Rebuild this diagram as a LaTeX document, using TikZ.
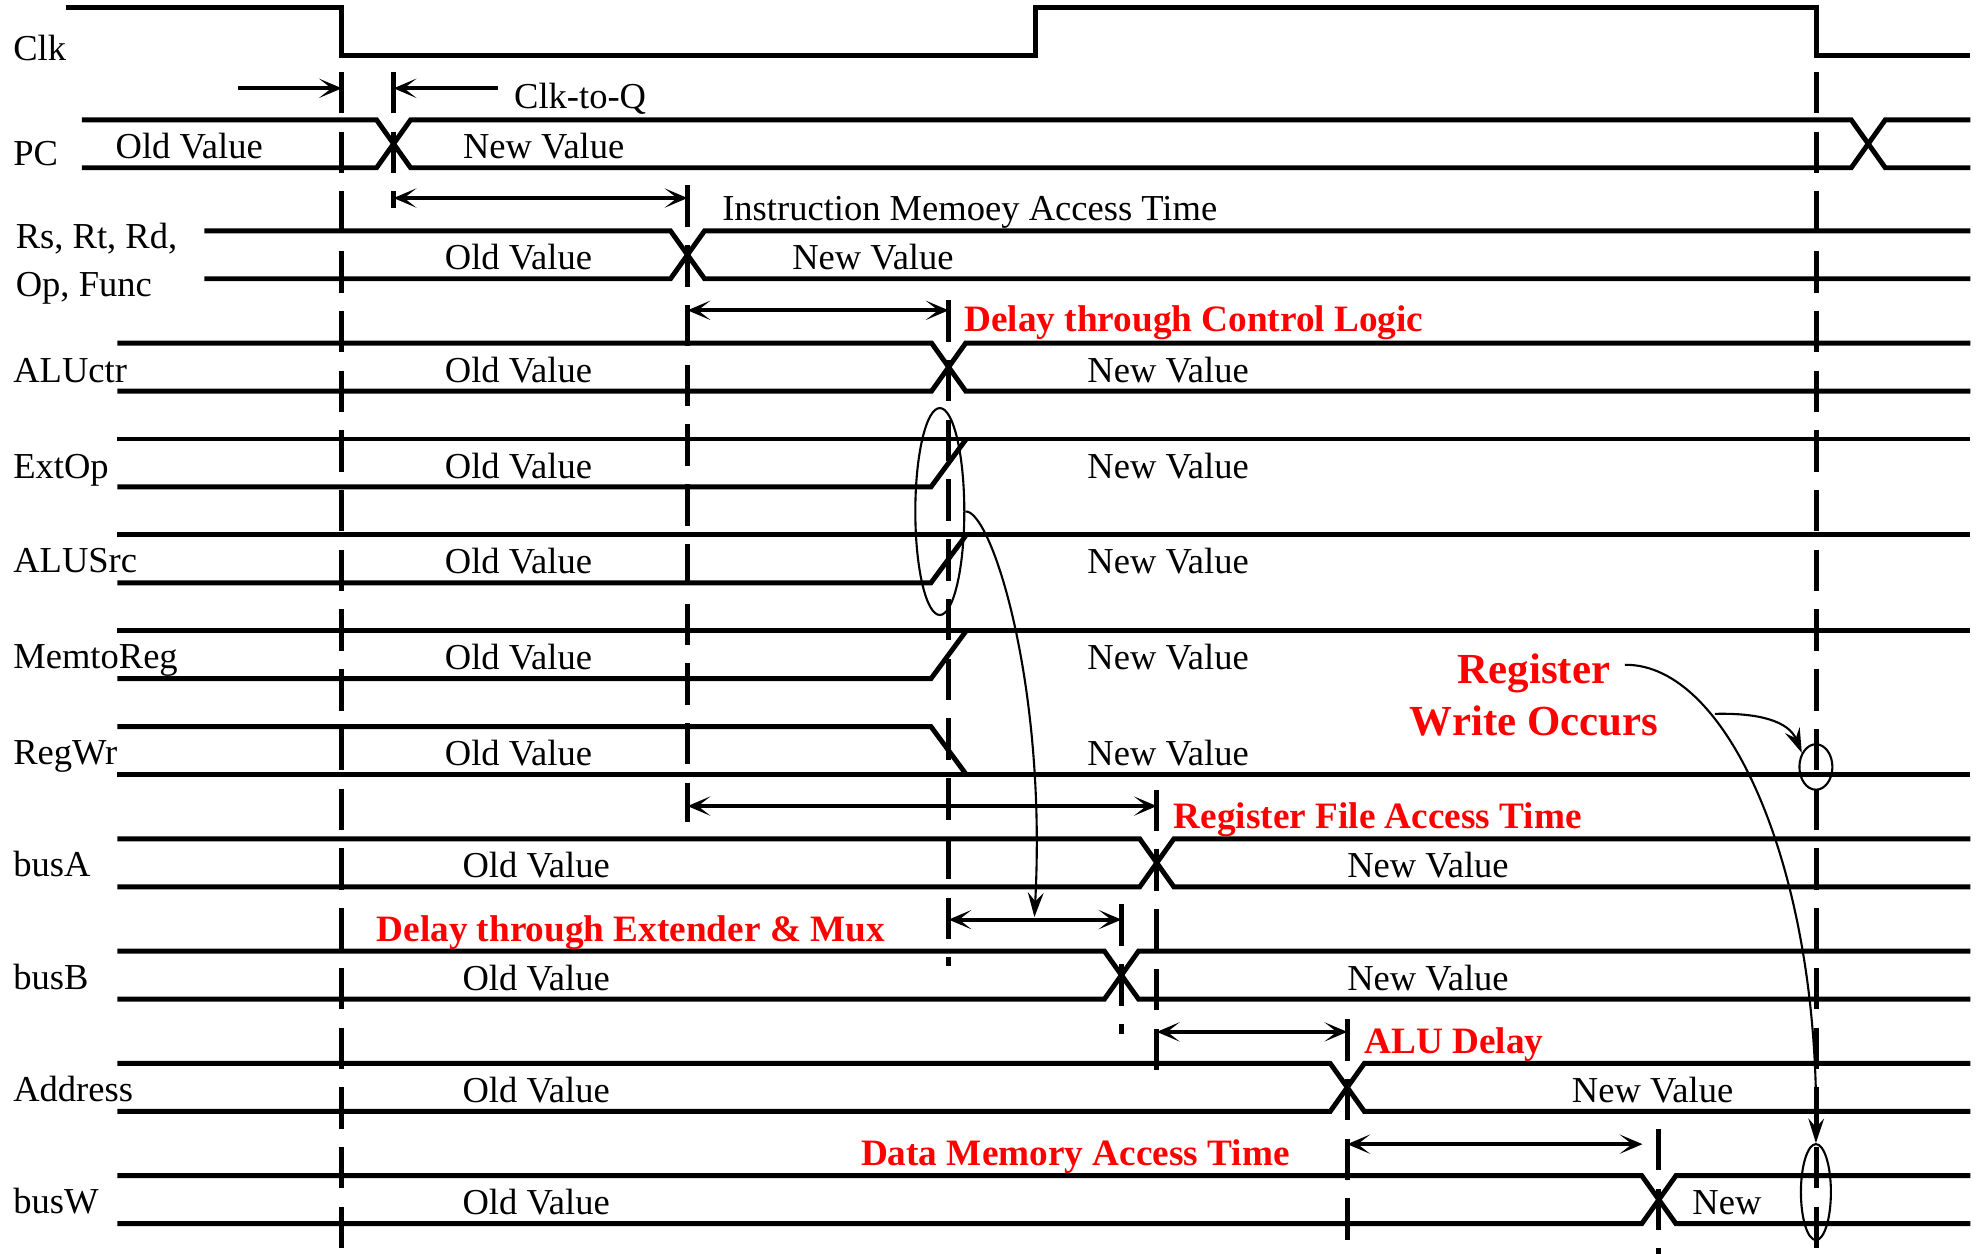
\documentclass[tikz,border=0pt]{standalone}
\usepackage{fontspec}
\setmainfont{Liberation Serif}
\usetikzlibrary{arrows.meta,shapes.geometric}

\newcommand*{\xleft}{93}
\newcommand*{\xright}{1562}
\newcommand*{\tclk}{271}
\newcommand*{\tpc}{312}
\newcommand*{\tinst}{545}
\newcommand*{\tctl}{752}
\newcommand*{\tmux}{889}
\newcommand*{\treg}{917}
\newcommand*{\talu}{1068}
\newcommand*{\tmem}{1315}
\newcommand*{\tnext}{1440}

% bus row: top y, start x, crossing x
\newcommand*{\busx}[3]{%
	\draw[sig] (#2,#1) -- ({#3-13.5},#1) -- ({#3+13.5},{#1+38}) -- (\xright,{#1+38});
	\draw[sig] (#2,{#1+38}) -- ({#3-13.5},{#1+38}) -- ({#3+13.5},#1) -- (\xright,#1);
}

\begin{document}
\begin{tikzpicture}
[
	x=0.012615cm, y=-0.012615cm,
	sig/.style={line width=1.4pt},
	tline/.style={line width=1.4pt, dash pattern=on 11.8pt off 5.2pt},
	dly/.style={line width=1.1pt, >={Stealth[length=6.5pt,width=5.5pt,inset=3.5pt]}},
	ptr/.style={line width=0.6pt, -{Stealth[length=7pt,width=4.5pt,inset=2.5pt]}},
	ring/.style={draw, ellipse, line width=0.6pt, inner sep=0pt},
	lbl/.style={anchor=base west, inner sep=0pt, font=\fontsize{10.4}{12}\selectfont},
	val/.style={anchor=base, inner sep=0pt, font=\fontsize{10.4}{12}\selectfont},
	note/.style={anchor=base west, inner sep=0pt, text=red, font=\bfseries\fontsize{10.6}{12}\selectfont}
]
	\useasboundingbox (0,0) rectangle (1568,994);

	% clock
	\draw[sig] (52,6) -- (\tclk,6) -- (\tclk,44) -- (821,44) -- (821,6) -- (\tnext,6) -- (\tnext,44) -- (\xright,44);

	% signals
	\draw[sig] (65,95) -- (298.5,95) -- (325.5,133) -- (1467.5,133) -- (1494.5,95) -- (\xright,95);
	\draw[sig] (65,133) -- (298.5,133) -- (325.5,95) -- (1467.5,95) -- (1494.5,133) -- (\xright,133);
	\busx{183}{162}{\tinst}
	\busx{272}{\xleft}{\tctl}
	\foreach \y in {348,424,500} {
		\draw[sig] (\xleft,\y) -- (\xright,\y);
		\draw[sig] (\xleft,{\y+38}) -- (738,{\y+38}) -- (766,\y);
	}
	\draw[sig] (\xleft,576) -- (738,576) -- (766,614);
	\draw[sig] (\xleft,614) -- (\xright,614);
	\busx{665}{\xleft}{\treg}
	\busx{754}{\xleft}{\tmux}
	\busx{843}{\xleft}{\talu}
	\busx{932}{\xleft}{\tmem}

	% time marks
	\draw[tline] (\tclk,57) -- (\tclk,994);
	\draw[tline] (\tpc,57) -- (\tpc,165);
	\draw[tline] (\tinst,147) -- (\tinst,652);
	\draw[tline] (\tctl,238) -- (\tctl,766);
	\draw[tline] (\treg,626) -- (\treg,856);
	\draw[tline] (\tmux,717) -- (\tmux,820);
	\draw[tline] (\talu,808) -- (\talu,994);
	\draw[tline] (\tmem,895) -- (\tmem,994);
	\draw[tline] (\tnext,57) -- (\tnext,994);

	% delays
	\draw[dly,->] (189,70) -- (\tclk,70);
	\draw[dly,->] (395,70) -- (\tpc,70);
	\draw[dly,<->] (\tpc,157) -- (\tinst,157);
	\draw[dly,<->] (\tinst,246) -- (\tctl,246);
	\draw[dly,<->] (\tinst,639) -- (\treg,639);
	\draw[dly,<->] (\tctl,729) -- (\tmux,729);
	\draw[dly,<->] (\treg,818) -- (\talu,818);
	\draw[dly,<->] (\talu,907) -- (1302,907);

	% signal names
	\node[lbl] (lclk) at (10,48) {Clk};
	\node[lbl] (lpc) at (10,131) {PC};
	\node[lbl] (lrs) at (12,197) {Rs, Rt, Rd,};
	\node[lbl] (lop) at (12,235) {Op, Func};
	\foreach \name/\y [count=\i] in {ALUctr/303, ExtOp/379, ALUSrc/454, MemtoReg/530, RegWr/606, busA/695, busB/784, Address/873, busW/962}
		\node[lbl] (lsig\i) at (10,\y) {\name};

	% values
	\foreach \y/\xo/\xn [count=\i] in {126/150/431, 214/411/692, 303/411/926, 379/411/926, 455/411/926, 531/411/926, 607/411/926, 696/425/1132, 785/425/1132, 874/425/1310}
	{
		\node[val] (old\i) at (\xo,\y) {Old Value};
		\node[val] (new\i) at (\xn,\y) {New Value};
	}
	\node[val] (oldw) at (425,963) {Old Value};
	\node[val] (neww) at (1369,963) {New};

	% notes
	\node[lbl] (cq) at (407,86) {Clk-to-Q};
	\node[lbl] (imem) at (572,175) {Instruction Memoey Access Time};
	\node[note] (nctl) at (764,263) {Delay through Control Logic};
	\node[note] (nrf) at (930,657) {Register File Access Time};
	\node[note] (nmux) at (298,746) {Delay through Extender \& Mux};
	\node[note] (nalu) at (1081,835) {ALU Delay};
	\node[note] (ndm) at (682,924) {Data Memory Access Time};
	\node[note, anchor=base, inner sep=4pt, font=\bfseries\fontsize{12.2}{14}\selectfont] (reg) at (1216,542) {Register};
	\node[note, anchor=base, inner sep=4pt, font=\bfseries\fontsize{12.2}{14}\selectfont] (wocc) at (1216,583) {Write Occurs};

	% rings
	\node[ring, minimum width=0.49cm, minimum height=2.07cm] (grp) at (745,405.5) {};
	\node[ring, minimum width=0.33cm, minimum height=0.455cm] (wr) at (1439.5,608) {};
	\node[ring, minimum width=0.30cm, minimum height=0.96cm] (bw) at (1439.5,945) {};

	\coordinate (muxmid) at (820,727);
	\draw[ptr] (grp.east) .. controls (785,403) and (830,540) .. (muxmid);
	\draw[ptr] ([shift={(12pt,2pt)}]wocc.east) .. controls (1395,565) and (1418,572) .. (wr.135);
	\draw[ptr] ([yshift=2.5pt]reg.east) .. controls (1370,526) and (1442,690) .. (bw.north);

\end{tikzpicture}
\end{document}
